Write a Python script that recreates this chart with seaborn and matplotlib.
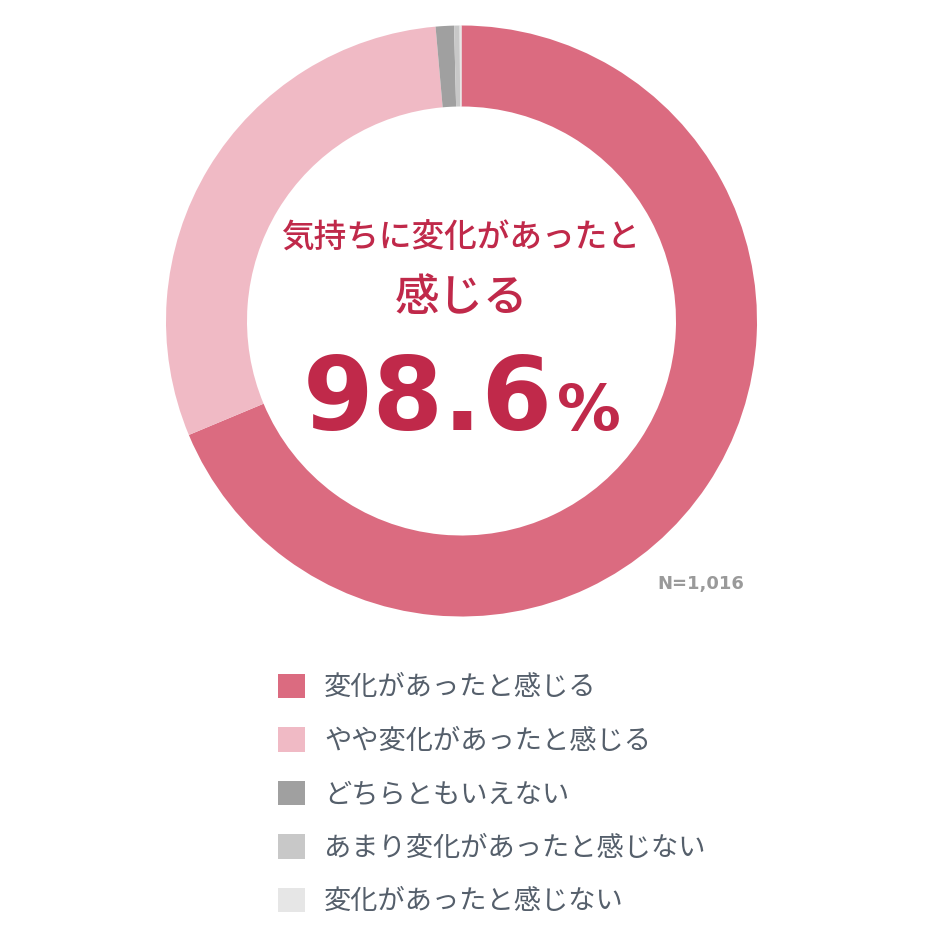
import matplotlib
matplotlib.use("Agg")
import matplotlib.pyplot as plt
import seaborn as sns

categories = ["変化があったと感じる", "やや変化があったと感じる", "どちらともいえない",
              "あまり変化があったと感じない", "変化があったと感じない"]
values = [68.7, 29.9, 1.0, 0.3, 0.1]
colors = ["#DB6B80", "#F0BAC5", "#A0A0A0", "#C8C8C8", "#E6E6E6"]
headline_lines = ["気持ちに変化があったと", "感じる"]
headline_value = "98.6"
sample_label = "N=1,016"

sns.set_theme(style="white")
plt.rcParams['font.family'] = ['Noto Sans CJK JP', 'DejaVu Sans']

fig = plt.figure(figsize=(9.5, 9.4), dpi=100)
fig.patch.set_facecolor("white")
W, H = 950, 940
cx, cy, r = 461.5, 321, 295.5
ax = fig.add_axes([(cx - r) / W, (H - cy - r) / H, 2 * r / W, 2 * r / H])
wedges, _ = ax.pie(values, colors=colors, startangle=90, counterclock=False,
                   radius=1.0, wedgeprops=dict(width=81 / 295.5, linewidth=0))
ax.set_xlim(-1, 1)
ax.set_ylim(-1, 1)
ax.set_aspect("equal")
ax.axis("off")

red = "#C0294A"
fig.text(cx / W, 1 - 238 / H, headline_lines[0], ha="center", va="center",
         fontsize=23.5, color=red, fontweight="medium")
fig.text(cx / W, 1 - 298 / H, headline_lines[1], ha="center", va="center",
         fontsize=32, color=red, fontweight="medium")
fig.text(428 / W, 1 - 430 / H, headline_value, ha="center", va="baseline",
         fontsize=73, color=red, fontweight="bold", family=["DejaVu Sans"])
fig.text(589 / W, 1 - 430 / H, "%", ha="center", va="baseline",
         fontsize=46, color=red, fontweight="bold", family=["DejaVu Sans"])

fig.text(701 / W, 1 - 584 / H, sample_label, ha="center", va="center",
         fontsize=13, color="#9A9A9A", fontweight="bold", family=["DejaVu Sans"])

leg = fig.legend(wedges, categories, loc="upper left",
                 bbox_to_anchor=(264 / W, 1 - 660 / H), frameon=False,
                 fontsize=19.6, handlelength=1.02, handleheight=1.02,
                 handletextpad=0.68, labelspacing=0.95, borderpad=0)
for t in leg.get_texts():
    t.set_color("#555F6B")

fig.savefig("out.png", dpi=100, facecolor="white")
